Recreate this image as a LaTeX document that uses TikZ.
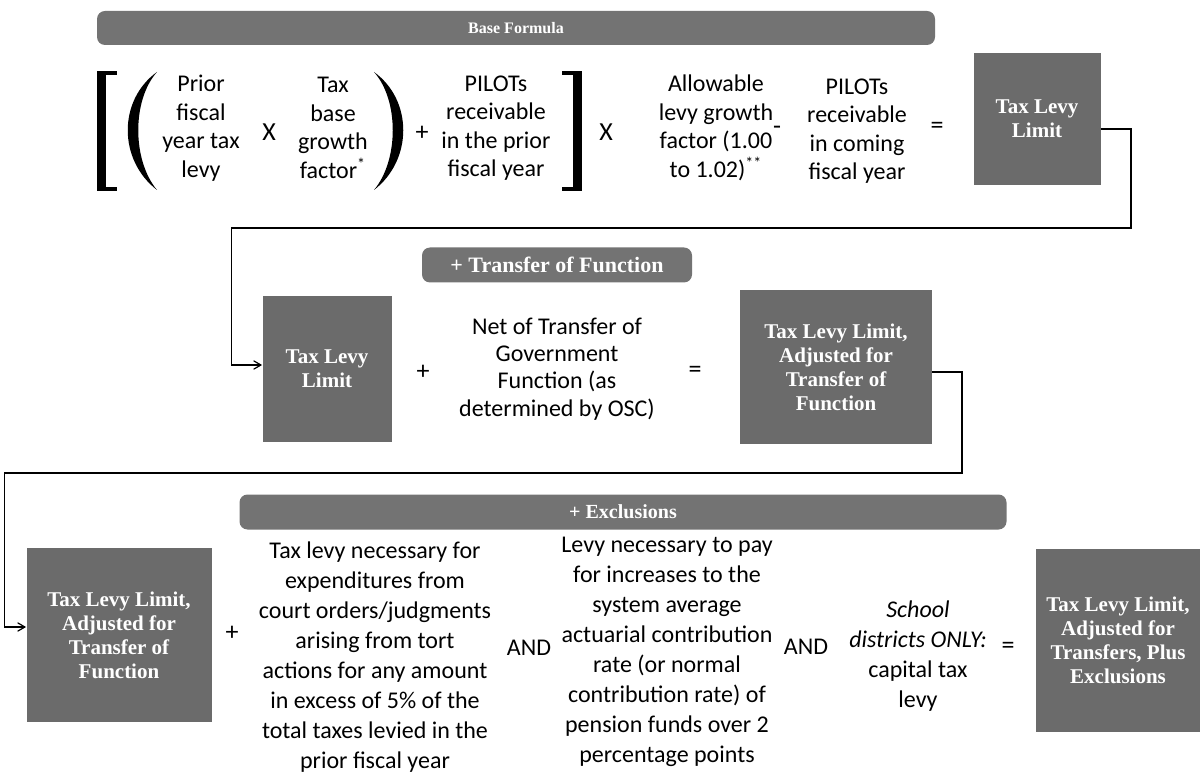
\documentclass[tikz,border=0pt]{standalone}
\usepackage{fontspec}
\setmainfont{Carlito}
\newfontfamily\boxfont{Liberation Serif}
\usetikzlibrary{arrows,calc}

\begin{document}
\begin{tikzpicture}[x=0.5pt,y=-0.5pt,>=angle 60]
\path [use as bounding box] (0,0) rectangle (1202,774);
\tikzstyle{greybox} = [rectangle, fill=black!58, text=white, align=center, inner sep=0pt, font=\boxfont\bfseries\fontsize{10.5}{12}\selectfont]
\tikzstyle{header} = [rectangle, rounded corners=4pt, fill=black!55, text=white, inner sep=0pt, minimum height=17pt, font=\boxfont\bfseries]
\tikzstyle{term} = [align=center, inner sep=0pt, font=\fontsize{12}{14.25}\selectfont]
\tikzstyle{op} = [inner sep=0pt, font=\fontsize{13}{15}\selectfont]
\node[header, minimum width=419pt] (hbase) at (516,28) {\fontsize{8}{9}\selectfont Base Formula};
\fill (100,71) rectangle (117,75);
\fill (97,71) rectangle (106,191);
\fill (100,187) rectangle (117,191);
\fill (157,72) .. controls (118,100) and (118,160) .. (157,190) .. controls (132,160) and (132,100) .. (157,72);
\node[term] (prior) at (201,128) {Prior\\fiscal\\year tax\\levy};
\node[op] (timesA) at (269,132) {X};
\node[term] (taxbase) at (333,128) {Tax\\base\\growth\\factor\textsuperscript{*}};
\fill (374,72) .. controls (413,100) and (413,160) .. (374,190) .. controls (399,160) and (399,100) .. (374,72);
\node[op] (plusA) at (422,133) {+};
\node[term] (pilotsprior) at (496,128) {PILOTs\\receivable\\in the prior\\fiscal year};
\fill (562,71) rectangle (580,75);
\fill (573,71) rectangle (582,191);
\fill (562,187) rectangle (580,191);
\node[op] (timesB) at (606,132) {X};
\node[term] (allowable) at (716,128) {Allowable\\levy growth\\factor (1.00\\to 1.02)\textsuperscript{**}};
\node[op] (minusA) at (777,130) {-};
\node[term] (pilotscoming) at (857,131) {PILOTs\\receivable\\in coming\\fiscal year};
\node[op] (eqA) at (937,128) {=};
\node[greybox, minimum width=63.5pt, minimum height=66pt] (limit) at (1037,119) {Tax Levy\\Limit};
\node[header, minimum width=135pt, minimum height=17.5pt] (htransfer) at (557,265) {\fontsize{11}{12}\selectfont + Transfer of Function};
\node[greybox, minimum width=64.5pt, minimum height=72.5pt] (limitB) at (327,369) {Tax Levy\\Limit};
\node[op] (plusB) at (423,372) {+};
\node[term, font=\fontsize{12}{13.7}\selectfont] (nettransfer) at (557,369) {Net of Transfer of\\Government\\Function (as\\determined by OSC)};
\node[op] (eqB) at (695,372) {=};
\node[greybox, minimum width=96pt, minimum height=76.5pt] (limitC) at (836,367) {Tax Levy Limit,\\Adjusted for\\Transfer of\\Function};
\node[header, minimum width=383.5pt, minimum height=17.5pt] (hexcl) at (623,512) {\fontsize{10}{11}\selectfont + Exclusions};
\node[greybox, minimum width=92.5pt, minimum height=87pt] (limitD) at (119,635) {Tax Levy Limit,\\Adjusted for\\Transfer of\\Function};
\node[op] (plusC) at (232,633) {+};
\node[term, font=\fontsize{12}{15}\selectfont] (tortlevy) at (375,657) {Tax levy necessary for\\expenditures from\\court orders/judgments\\arising from tort\\actions for any amount\\in excess of 5\% of the\\total taxes levied in the\\prior fiscal year};
\node[op, font=\fontsize{12}{14}\selectfont] (andA) at (529,648) {AND};
\node[term, font=\fontsize{12}{15}\selectfont] (pensionlevy) at (667,652) {Levy necessary to pay\\for increases to the\\system average\\actuarial contribution\\rate (or normal\\contribution rate) of\\pension funds over 2\\percentage points};
\node[op, font=\fontsize{12}{14}\selectfont] (andB) at (806,647) {AND};
\node[term, font=\fontsize{12}{15}\selectfont] (capitallevy) at (918,656) {\textit{School}\\\textit{districts ONLY:}\\capital tax\\levy};
\node[op] (eqC) at (1008,648) {=};
\node[greybox, minimum width=82pt, minimum height=91.5pt] (limitE) at (1118,640) {Tax Levy Limit,\\Adjusted for\\Transfers, Plus\\Exclusions};
\coordinate (bendA) at (1131,228);
\coordinate (bendB) at (962,473);
\draw[->, line width=0.6pt] ($(limit.east)+(0,10)$) -| (bendA) -| ($(limitB.west)+(-31,-4)$) -- ($(limitB.west)+(0,-4)$);
\draw[->, line width=0.6pt] ($(limitC.east)+(0,5)$) -| (bendB) -| ($(limitD.west)+(-22,-8)$) -- ($(limitD.west)+(0,-8)$);
\end{tikzpicture}
\end{document}
